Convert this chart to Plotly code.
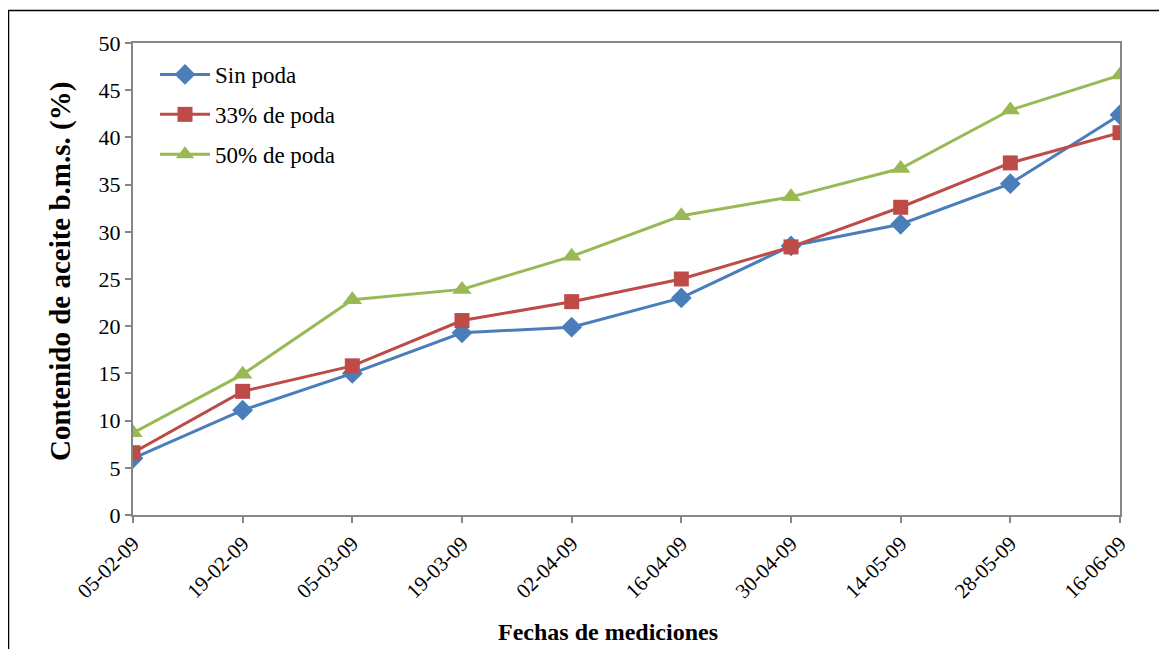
import plotly.graph_objects as go

fechas = ["05-02-09", "19-02-09", "05-03-09", "19-03-09", "02-04-09",
          "16-04-09", "30-04-09", "14-05-09", "28-05-09", "16-06-09"]
sin_poda = [6.0, 11.1, 15.0, 19.3, 19.9, 23.0, 28.5, 30.8, 35.1, 42.4]
poda_33 = [6.6, 13.1, 15.8, 20.6, 22.6, 25.0, 28.4, 32.6, 37.3, 40.5]
poda_50 = [8.7, 14.9, 22.8, 23.9, 27.4, 31.7, 33.7, 36.7, 42.9, 46.6]

series = [
    ("Sin poda", sin_poda, "#4A7EBB", "diamond", 16),
    ("33% de poda", poda_33, "#BE4B48", "square", 15),
    ("50% de poda", poda_50, "#98B954", "triangle-up", 17),
]

FONT = "Liberation Serif"
# page body has an 8px margin; figure is shrunk and shifted to compensate
OFF = 8
W, H = 1167 - OFF, 649 - OFF
L, T = 133 - OFF, 43 - OFF
R, B = W - (1120 - OFF), H - (515 - OFF)
PW, PH = W - L - R, H - T - B


def px_x(px):
    return (px - OFF - L) / PW


def px_y(py):
    return 1 - (py - OFF - T) / PH


fig = go.Figure()
for i, (name, vals, color, sym, sz) in enumerate(series):
    fig.add_trace(go.Scatter(
        x=fechas, y=vals, name=name, mode="lines+markers",
        line=dict(color=color, width=3),
        marker=dict(symbol=sym, size=sz, color=color),
        legendgroup=f"g{i}",
    ))

axis_col = "#868686"
fig.update_layout(
    width=W, height=H,
    margin=dict(l=L, r=R, t=T, b=B),
    paper_bgcolor="white", plot_bgcolor="white",
    font=dict(family=FONT, color="black"),
    showlegend=True,
    legend=dict(
        x=px_x(155), y=px_y(53), xanchor="left", yanchor="top",
        font=dict(size=23, family=FONT, color="black"), bgcolor="rgba(0,0,0,0)",
        traceorder="grouped", tracegroupgap=7, itemwidth=50,
    ),
    xaxis=dict(
        type="category", showgrid=False, zeroline=False,
        showline=True, linecolor=axis_col, linewidth=2, mirror=True,
        ticks="outside", ticklen=6, tickcolor=axis_col, tickwidth=2,
        tickangle=-45, tickfont=dict(size=21, family=FONT, color="black"),
        range=[0, len(fechas) - 1],
    ),
    yaxis=dict(
        range=[0, 50], dtick=5, showgrid=False, zeroline=False,
        showline=True, linecolor=axis_col, linewidth=2, mirror=True,
        ticks="outside", ticklen=6, tickcolor=axis_col, tickwidth=2,
        tickfont=dict(size=22, family=FONT, color="black"),
    ),
    annotations=[
        dict(text="<b>Contenido de aceite b.m.s. (%)</b>", textangle=-90,
             xref="paper", yref="paper",
             x=px_x(60), y=px_y(272),
             xanchor="center", yanchor="middle", showarrow=False,
             font=dict(size=29, family=FONT, color="black")),
        dict(text="<b>Fechas de mediciones</b>",
             xref="paper", yref="paper",
             x=px_x(608), y=px_y(632),
             xanchor="center", yanchor="middle", showarrow=False,
             font=dict(size=24, family=FONT, color="black")),
    ],
    shapes=[
        dict(type="rect", xref="paper", yref="paper",
             x0=px_x(8.5), x1=px_x(1250),
             y0=px_y(700), y1=px_y(10.5),
             line=dict(color="black", width=1.5), layer="below"),
    ],
)

fig.write_html("out.html")
